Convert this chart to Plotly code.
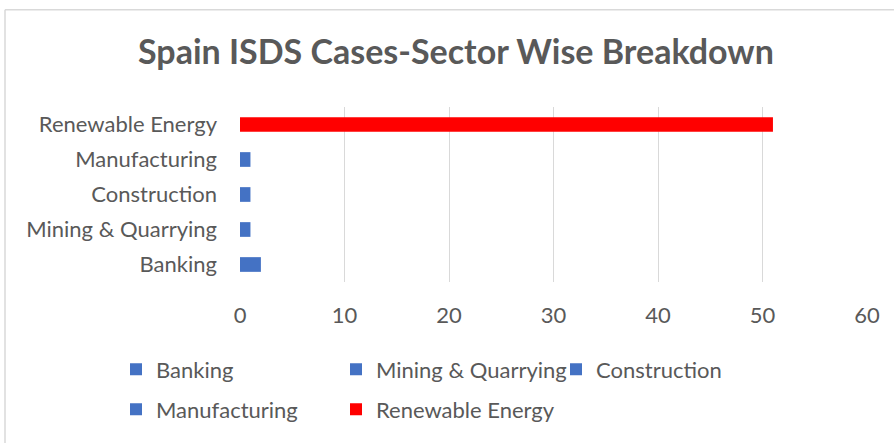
import plotly.graph_objects as go

categories = ["Banking", "Mining & Quarrying", "Construction", "Manufacturing", "Renewable Energy"]
values = [2, 1, 1, 1, 51]
colors = ["#4472C4", "#4472C4", "#4472C4", "#4472C4", "#FF0000"]
legend_group = ["legend", "legend", "legend", "legend2", "legend2"]
x_ticks = [0, 10, 20, 30, 40, 50, 60]

W, H = 894, 443
L, R, T, B = 240, 27, 107, 156
pw, ph = W - L - R, H - T - B

def px_x(p):
    return (p - L) / pw

def px_y(p):
    return (H - B - p) / ph

FONT = "Lato"
TXT = "#595959"
FS = 22

fig = go.Figure()
for cat, val, col, lg in zip(categories, values, colors, legend_group):
    fig.add_trace(go.Bar(
        y=[cat], x=[val], orientation="h", name=cat,
        marker=dict(color=col, line=dict(width=0)),
        width=0.42, legend=lg,
    ))

fig.update_layout(
    width=W, height=H,
    margin=dict(l=L, r=R, t=T, b=B),
    paper_bgcolor="white", plot_bgcolor="white",
    barmode="overlay",
    font=dict(family=FONT, color=TXT, size=FS),
    title=dict(text="<b>Spain ISDS Cases-Sector Wise Breakdown</b>",
               x=0.51, xanchor="center", y=1 - 52 / H, yanchor="middle",
               font=dict(family=FONT, size=34, color=TXT)),
    xaxis=dict(range=[0, 60], tickvals=x_ticks, showgrid=True, gridcolor="#D9D9D9",
               gridwidth=1, zeroline=False, showline=False, ticks="",
               ticklabelstandoff=18, tickfont=dict(size=FS, color=TXT)),
    yaxis=dict(categoryorder="array", categoryarray=categories, showgrid=False,
               zeroline=False, showline=False, ticks="", ticklabelstandoff=22,
               tickfont=dict(size=FS, color=TXT)),
    legend=dict(orientation="h", x=px_x(116), y=px_y(377), xanchor="left", yanchor="middle",
                entrywidth=175, entrywidthmode="pixels", font=dict(size=FS, color=TXT),
                bgcolor="rgba(0,0,0,0)"),
    legend2=dict(orientation="h", x=px_x(116), y=px_y(418), xanchor="left", yanchor="middle",
                 entrywidth=175, entrywidthmode="pixels", font=dict(size=FS, color=TXT),
                 bgcolor="rgba(0,0,0,0)"),
    showlegend=True,
)

border = dict(color="#D9D9D9", width=1.5)
fig.add_shape(type="line", xref="paper", yref="paper",
              x0=px_x(5), x1=px_x(W + 20), y0=px_y(7), y1=px_y(7), line=border, layer="below")
fig.add_shape(type="line", xref="paper", yref="paper",
              x0=px_x(5), x1=px_x(5), y0=px_y(7), y1=px_y(H + 20), line=border, layer="below")

fig.write_html("out.html", config={"displayModeBar": False},
               post_script="document.body.style.margin='0';document.body.style.padding='0';")
